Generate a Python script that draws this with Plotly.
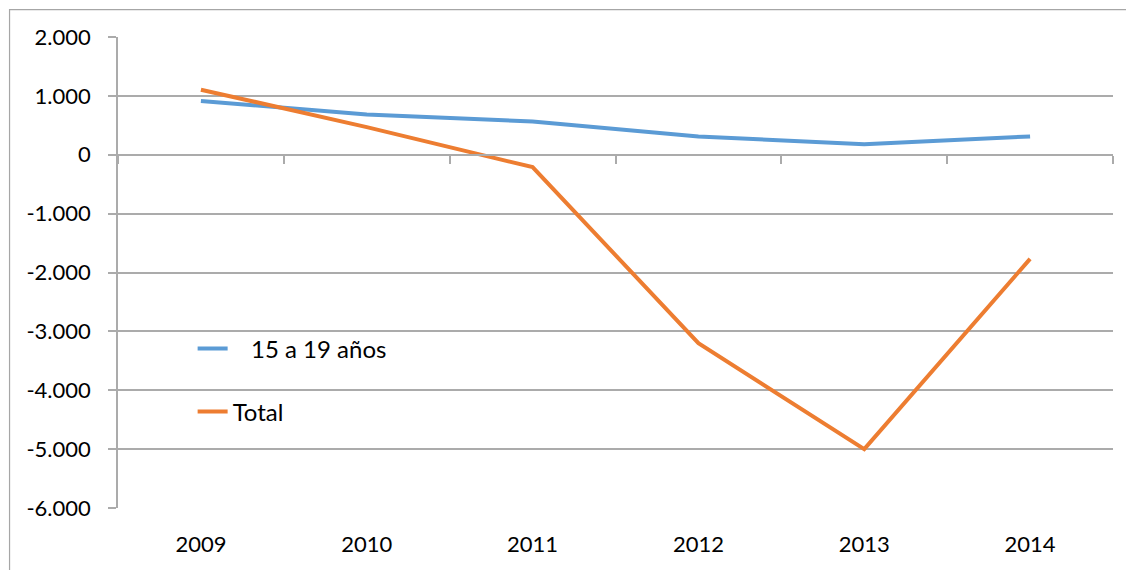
import plotly.graph_objects as go

years = ["2009", "2010", "2011", "2012", "2013", "2014"]
jovenes_15_19 = [912, 685, 566, 311, 180, 311]
total = [1105, 470, -211, -3200, -5000, -1769]
ytick_vals = [2000, 1000, 0, -1000, -2000, -3000, -4000, -5000, -6000]
ytick_text = ["2.000", "1.000", "0", "-1.000", "-2.000", "-3.000", "-4.000", "-5.000", "-6.000"]

BLUE = "#5B9BD5"
ORANGE = "#ED7D31"
GRID = "#ABABAB"
FONT = "Lato, 'Open Sans', sans-serif"

fig = go.Figure()
fig.add_trace(go.Scatter(x=years, y=jovenes_15_19, mode="lines", name="   15 a 19 años",
                         line=dict(color=BLUE, width=4), legend="legend"))
fig.add_trace(go.Scatter(x=years, y=total, mode="lines", name="Total",
                         line=dict(color=ORANGE, width=4), legend="legend2"))
# helper trace for the zero-crossing category axis (ticks at boundaries)
fig.add_trace(go.Scatter(x=years, y=[None]*len(years), xaxis="x2", mode="lines",
                         showlegend=False, hoverinfo="skip"))

# page body has an 8px margin, so the figure is 8px smaller and margins reduced by 8
fig.update_layout(
    width=1126, height=562,
    margin=dict(l=110, r=21, t=29, b=62),
    paper_bgcolor="white", plot_bgcolor="white",
    font=dict(family=FONT, size=21.5, color="#000000"),
    xaxis=dict(type="category", categoryarray=years, range=[-0.5, 5.5],
               showgrid=False, zeroline=False, showline=False,
               ticks="outside", ticklen=17, tickcolor="rgba(0,0,0,0)",
               tickfont=dict(size=22)),
    xaxis2=dict(type="category", categoryarray=years, range=[-0.5, 5.5],
                overlaying="x", anchor="free", position=0.75, side="bottom",
                showline=True, linecolor=GRID, linewidth=1.5,
                ticks="outside", tickson="boundaries", ticklen=8, tickcolor=GRID, tickwidth=1.5,
                showticklabels=False, showgrid=False, zeroline=False),
    yaxis=dict(range=[-6000, 2000], tickvals=ytick_vals, ticktext=ytick_text,
               showgrid=True, gridcolor=GRID, gridwidth=1.5, zeroline=False,
               showline=True, linecolor=GRID, linewidth=1.5,
               ticks="outside", ticklen=8, tickcolor=GRID, tickwidth=1.5,
               ticklabelstandoff=13, tickfont=dict(size=22)),
    legend=dict(x=0.075, y=0.338, xanchor="left", yanchor="middle",
                bgcolor="rgba(0,0,0,0)", font=dict(size=24)),
    legend2=dict(x=0.075, y=0.204, xanchor="left", yanchor="middle",
                 bgcolor="rgba(0,0,0,0)", font=dict(size=24)),
    showlegend=True,
    shapes=[dict(type="rect", xref="paper", yref="paper",
                 x0=-0.109, x1=1.05, y0=-0.2, y1=1.058,
                 line=dict(color="#A6A6A6", width=1.2), fillcolor="rgba(0,0,0,0)", layer="below")],
)

fig.write_html("out.html")
